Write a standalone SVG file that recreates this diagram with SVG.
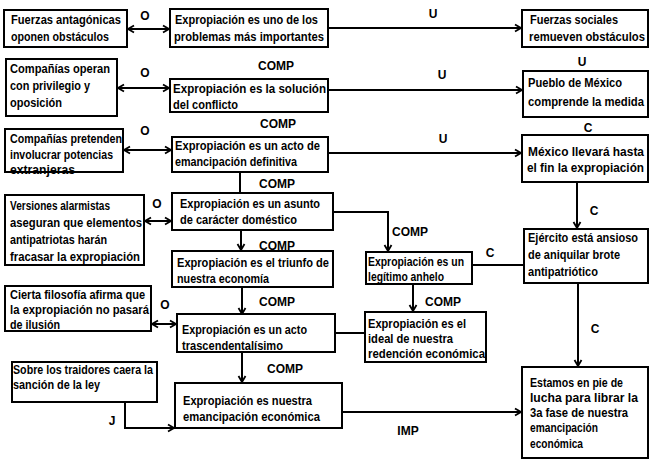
<svg xmlns="http://www.w3.org/2000/svg" width="651" height="461" viewBox="0 0 651 461">
  <style>
    .box { fill: #fff; stroke: #000; stroke-width: 2; }
    .t { font-family: "Liberation Sans", "DejaVu Sans", sans-serif; font-weight: bold; font-size: 13px; fill: #000; }
    .lbl { font-family: "Liberation Sans", "DejaVu Sans", sans-serif; font-weight: bold; font-size: 12px; fill: #000; text-anchor: middle; }
    .ln { fill: none; stroke: #000; stroke-width: 2; }
  </style>
  <defs>
    <marker id="arr" markerUnits="userSpaceOnUse" markerWidth="10" markerHeight="10" refX="8" refY="5" orient="auto-start-reverse">
      <path d="M2,1.5 L8,5 L2,8.5" fill="none" stroke="#000" stroke-width="1.8"/>
    </marker>
  </defs>
  <rect width="651" height="461" fill="#fff"/>

  <!-- connectors -->
  <g id="connectors">
    <line class="ln" x1="128" y1="29" x2="169" y2="29" marker-start="url(#arr)" marker-end="url(#arr)"/>
    <line class="ln" x1="329" y1="28" x2="521" y2="28" marker-end="url(#arr)"/>
    <line class="ln" x1="118" y1="88" x2="169" y2="88" marker-start="url(#arr)" marker-end="url(#arr)"/>
    <line class="ln" x1="329" y1="90" x2="522" y2="90" marker-end="url(#arr)"/>
    <line class="ln" x1="124" y1="150" x2="171" y2="150" marker-start="url(#arr)" marker-end="url(#arr)"/>
    <line class="ln" x1="329" y1="153" x2="521" y2="153" marker-end="url(#arr)"/>
    <line class="ln" x1="240" y1="172" x2="240" y2="193"/>
    <line class="ln" x1="145" y1="221" x2="171" y2="221" marker-start="url(#arr)" marker-end="url(#arr)"/>
    <polyline class="ln" points="333,212 388,212 388,251" marker-end="url(#arr)"/>
    <line class="ln" x1="241" y1="230" x2="241" y2="250" marker-end="url(#arr)"/>
    <line class="ln" x1="577" y1="182" x2="577" y2="228" marker-end="url(#arr)"/>
    <line class="ln" x1="472" y1="265" x2="524" y2="265"/>
    <line class="ln" x1="242" y1="287" x2="242" y2="314" marker-end="url(#arr)"/>
    <line class="ln" x1="413" y1="284" x2="413" y2="311" marker-end="url(#arr)"/>
    <line class="ln" x1="152" y1="324" x2="176" y2="324" marker-start="url(#arr)" marker-end="url(#arr)"/>
    <line class="ln" x1="335" y1="333" x2="365" y2="333"/>
    <line class="ln" x1="578" y1="283" x2="578" y2="366" marker-end="url(#arr)"/>
    <line class="ln" x1="242" y1="352" x2="242" y2="382" marker-end="url(#arr)"/>
    <polyline class="ln" points="125,402 125,428 174,428" marker-end="url(#arr)"/>
    <line class="ln" x1="342" y1="412" x2="521" y2="412" marker-end="url(#arr)"/>

    <text class="lbl" x="145" y="20">O</text>
    <text class="lbl" x="433" y="18">U</text>
    <text class="lbl" x="276" y="70">COMP</text>
    <text class="lbl" x="145" y="77">O</text>
    <text class="lbl" x="442" y="79">U</text>
    <text class="lbl" x="582" y="66">U</text>
    <text class="lbl" x="278" y="128">COMP</text>
    <text class="lbl" x="145" y="135">O</text>
    <text class="lbl" x="443" y="143">U</text>
    <text class="lbl" x="588" y="132">C</text>
    <text class="lbl" x="277" y="188">COMP</text>
    <text class="lbl" x="157" y="208">O</text>
    <text class="lbl" x="277" y="250">COMP</text>
    <text class="lbl" x="410" y="236">COMP</text>
    <text class="lbl" x="594" y="215">C</text>
    <text class="lbl" x="490" y="257">C</text>
    <text class="lbl" x="443" y="306">COMP</text>
    <text class="lbl" x="165" y="309">O</text>
    <text class="lbl" x="277" y="306">COMP</text>
    <text class="lbl" x="595" y="333">C</text>
    <text class="lbl" x="285" y="373">COMP</text>
    <text class="lbl" x="112" y="425">J</text>
    <text class="lbl" x="408" y="435">IMP</text>
  </g>

  <!-- left column -->
  <g id="fuerzas-antagonicas">
    <rect class="box" x="4" y="10" width="123" height="37"/>
    <text class="t" x="11" y="24" textLength="110" lengthAdjust="spacingAndGlyphs">Fuerzas antagónicas</text>
    <text class="t" x="11" y="41" textLength="98" lengthAdjust="spacingAndGlyphs">oponen obstáculos</text>
  </g>
  <g id="companias-operan">
    <rect class="box" x="6" y="59" width="111" height="57"/>
    <text class="t" x="10" y="73" textLength="100" lengthAdjust="spacingAndGlyphs">Compañías operan</text>
    <text class="t" x="10" y="90" textLength="80" lengthAdjust="spacingAndGlyphs">con privilegio y</text>
    <text class="t" x="10" y="107" textLength="52" lengthAdjust="spacingAndGlyphs">oposición</text>
  </g>
  <g id="companias-pretenden">
    <rect class="box" x="5" y="129" width="118" height="43"/>
    <text class="t" x="10" y="143" textLength="112" lengthAdjust="spacingAndGlyphs">Compañías pretenden</text>
    <text class="t" x="10" y="159" textLength="103" lengthAdjust="spacingAndGlyphs">involucrar potencias</text>
    <text class="t" x="10" y="174" textLength="65" lengthAdjust="spacingAndGlyphs">extranjeras</text>
  </g>
  <g id="versiones-alarmistas">
    <rect class="box" x="5" y="195" width="139" height="70"/>
    <text class="t" x="10" y="210" textLength="100" lengthAdjust="spacingAndGlyphs">Versiones alarmistas</text>
    <text class="t" x="10" y="227" textLength="132" lengthAdjust="spacingAndGlyphs">aseguran que elementos</text>
    <text class="t" x="10" y="244" textLength="97" lengthAdjust="spacingAndGlyphs">antipatriotas harán</text>
    <text class="t" x="10" y="261" textLength="130" lengthAdjust="spacingAndGlyphs">fracasar la expropiación</text>
  </g>
  <g id="cierta-filosofia">
    <rect class="box" x="5" y="286" width="146" height="45"/>
    <text class="t" x="10" y="299" textLength="135" lengthAdjust="spacingAndGlyphs">Cierta filosofía afirma que</text>
    <text class="t" x="10" y="314" textLength="139" lengthAdjust="spacingAndGlyphs">la expropiación no pasará</text>
    <text class="t" x="10" y="329" textLength="50" lengthAdjust="spacingAndGlyphs">de ilusión</text>
  </g>
  <g id="sobre-los-traidores">
    <rect class="box" x="12" y="362" width="145" height="40"/>
    <text class="t" x="13" y="374" textLength="140" lengthAdjust="spacingAndGlyphs">Sobre los traidores caera la</text>
    <text class="t" x="13" y="389" textLength="87" lengthAdjust="spacingAndGlyphs">sanción de la ley</text>
  </g>

  <!-- middle column -->
  <g id="uno-de-los-problemas">
    <rect class="box" x="170" y="9" width="158" height="38"/>
    <text class="t" x="175" y="24" textLength="143" lengthAdjust="spacingAndGlyphs">Expropiación es uno de los</text>
    <text class="t" x="174" y="41" textLength="150" lengthAdjust="spacingAndGlyphs">problemas más importantes</text>
  </g>
  <g id="solucion-del-conflicto">
    <rect class="box" x="170" y="79" width="158" height="33"/>
    <text class="t" x="173" y="93" textLength="153" lengthAdjust="spacingAndGlyphs">Expropiación es la solución</text>
    <text class="t" x="173" y="109" textLength="65" lengthAdjust="spacingAndGlyphs">del conflicto</text>
  </g>
  <g id="emancipacion-definitiva">
    <rect class="box" x="172" y="137" width="156" height="35"/>
    <text class="t" x="175" y="150" textLength="145" lengthAdjust="spacingAndGlyphs">Expropiación es un acto de</text>
    <text class="t" x="175" y="166" textLength="122" lengthAdjust="spacingAndGlyphs">emancipación definitiva</text>
  </g>
  <g id="asunto-domestico">
    <rect class="box" x="172" y="193" width="161" height="37"/>
    <text class="t" x="180" y="208" textLength="140" lengthAdjust="spacingAndGlyphs">Expropiación es un asunto</text>
    <text class="t" x="180" y="224" textLength="117" lengthAdjust="spacingAndGlyphs">de carácter doméstico</text>
  </g>
  <g id="triunfo-economia">
    <rect class="box" x="172" y="251" width="161" height="36"/>
    <text class="t" x="177" y="267" textLength="152" lengthAdjust="spacingAndGlyphs">Expropiación es el triunfo de</text>
    <text class="t" x="177" y="283" textLength="92" lengthAdjust="spacingAndGlyphs">nuestra economía</text>
  </g>
  <g id="acto-trascendental">
    <rect class="box" x="177" y="314" width="158" height="38"/>
    <text class="t" x="182" y="334" textLength="125" lengthAdjust="spacingAndGlyphs">Expropiación es un acto</text>
    <text class="t" x="182" y="350" textLength="101" lengthAdjust="spacingAndGlyphs">trascendentalísimo</text>
  </g>
  <g id="emancipacion-economica">
    <rect class="box" x="175" y="383" width="167" height="45"/>
    <text class="t" x="183" y="405" textLength="129" lengthAdjust="spacingAndGlyphs">Expropiación es nuestra</text>
    <text class="t" x="183" y="421" textLength="137" lengthAdjust="spacingAndGlyphs">emancipación económica</text>
  </g>
  <g id="legitimo-anhelo">
    <rect class="box" x="366" y="252" width="106" height="32"/>
    <text class="t" x="368" y="266" textLength="96" lengthAdjust="spacingAndGlyphs">Expropiación es un</text>
    <text class="t" x="368" y="281" textLength="76" lengthAdjust="spacingAndGlyphs">legítimo anhelo</text>
  </g>
  <g id="ideal-redencion">
    <rect class="box" x="365" y="312" width="121" height="50"/>
    <text class="t" x="368" y="328" textLength="98" lengthAdjust="spacingAndGlyphs">Expropiación es el</text>
    <text class="t" x="368" y="343" textLength="85" lengthAdjust="spacingAndGlyphs">ideal de nuestra</text>
    <text class="t" x="368" y="358" textLength="117" lengthAdjust="spacingAndGlyphs">redención económica</text>
  </g>

  <!-- right column -->
  <g id="fuerzas-sociales">
    <rect class="box" x="522" y="10" width="126" height="37"/>
    <text class="t" x="530" y="24" textLength="88" lengthAdjust="spacingAndGlyphs">Fuerzas sociales</text>
    <text class="t" x="529" y="41" textLength="116" lengthAdjust="spacingAndGlyphs">remueven obstáculos</text>
  </g>
  <g id="pueblo-de-mexico">
    <rect class="box" x="523" y="71" width="125" height="46"/>
    <text class="t" x="528" y="87" textLength="94" lengthAdjust="spacingAndGlyphs">Pueblo de México</text>
    <text class="t" x="528" y="106" textLength="116" lengthAdjust="spacingAndGlyphs">comprende la medida</text>
  </g>
  <g id="mexico-llevara">
    <rect class="box" x="522" y="135" width="126" height="47"/>
    <text class="t" x="528" y="156" textLength="116" lengthAdjust="spacingAndGlyphs">México llevará hasta</text>
    <text class="t" x="527" y="172" textLength="117" lengthAdjust="spacingAndGlyphs">el fin la expropiación</text>
  </g>
  <g id="ejercito-ansioso">
    <rect class="box" x="524" y="229" width="124" height="54"/>
    <text class="t" x="528" y="242" textLength="110" lengthAdjust="spacingAndGlyphs">Ejército está ansioso</text>
    <text class="t" x="528" y="259" textLength="92" lengthAdjust="spacingAndGlyphs">de aniquilar brote</text>
    <text class="t" x="528" y="276" textLength="70" lengthAdjust="spacingAndGlyphs">antipatriótico</text>
  </g>
  <g id="estamos-en-pie">
    <rect class="box" x="522" y="367" width="126" height="91"/>
    <text class="t" x="530" y="387" textLength="93" lengthAdjust="spacingAndGlyphs">Estamos en pie de</text>
    <text class="t" x="530" y="402" textLength="108" lengthAdjust="spacingAndGlyphs">lucha para librar la</text>
    <text class="t" x="530" y="417" textLength="98" lengthAdjust="spacingAndGlyphs">3a fase de nuestra</text>
    <text class="t" x="530" y="432" textLength="68" lengthAdjust="spacingAndGlyphs">emancipación</text>
    <text class="t" x="530" y="448" textLength="53" lengthAdjust="spacingAndGlyphs">económica</text>
  </g>
</svg>
